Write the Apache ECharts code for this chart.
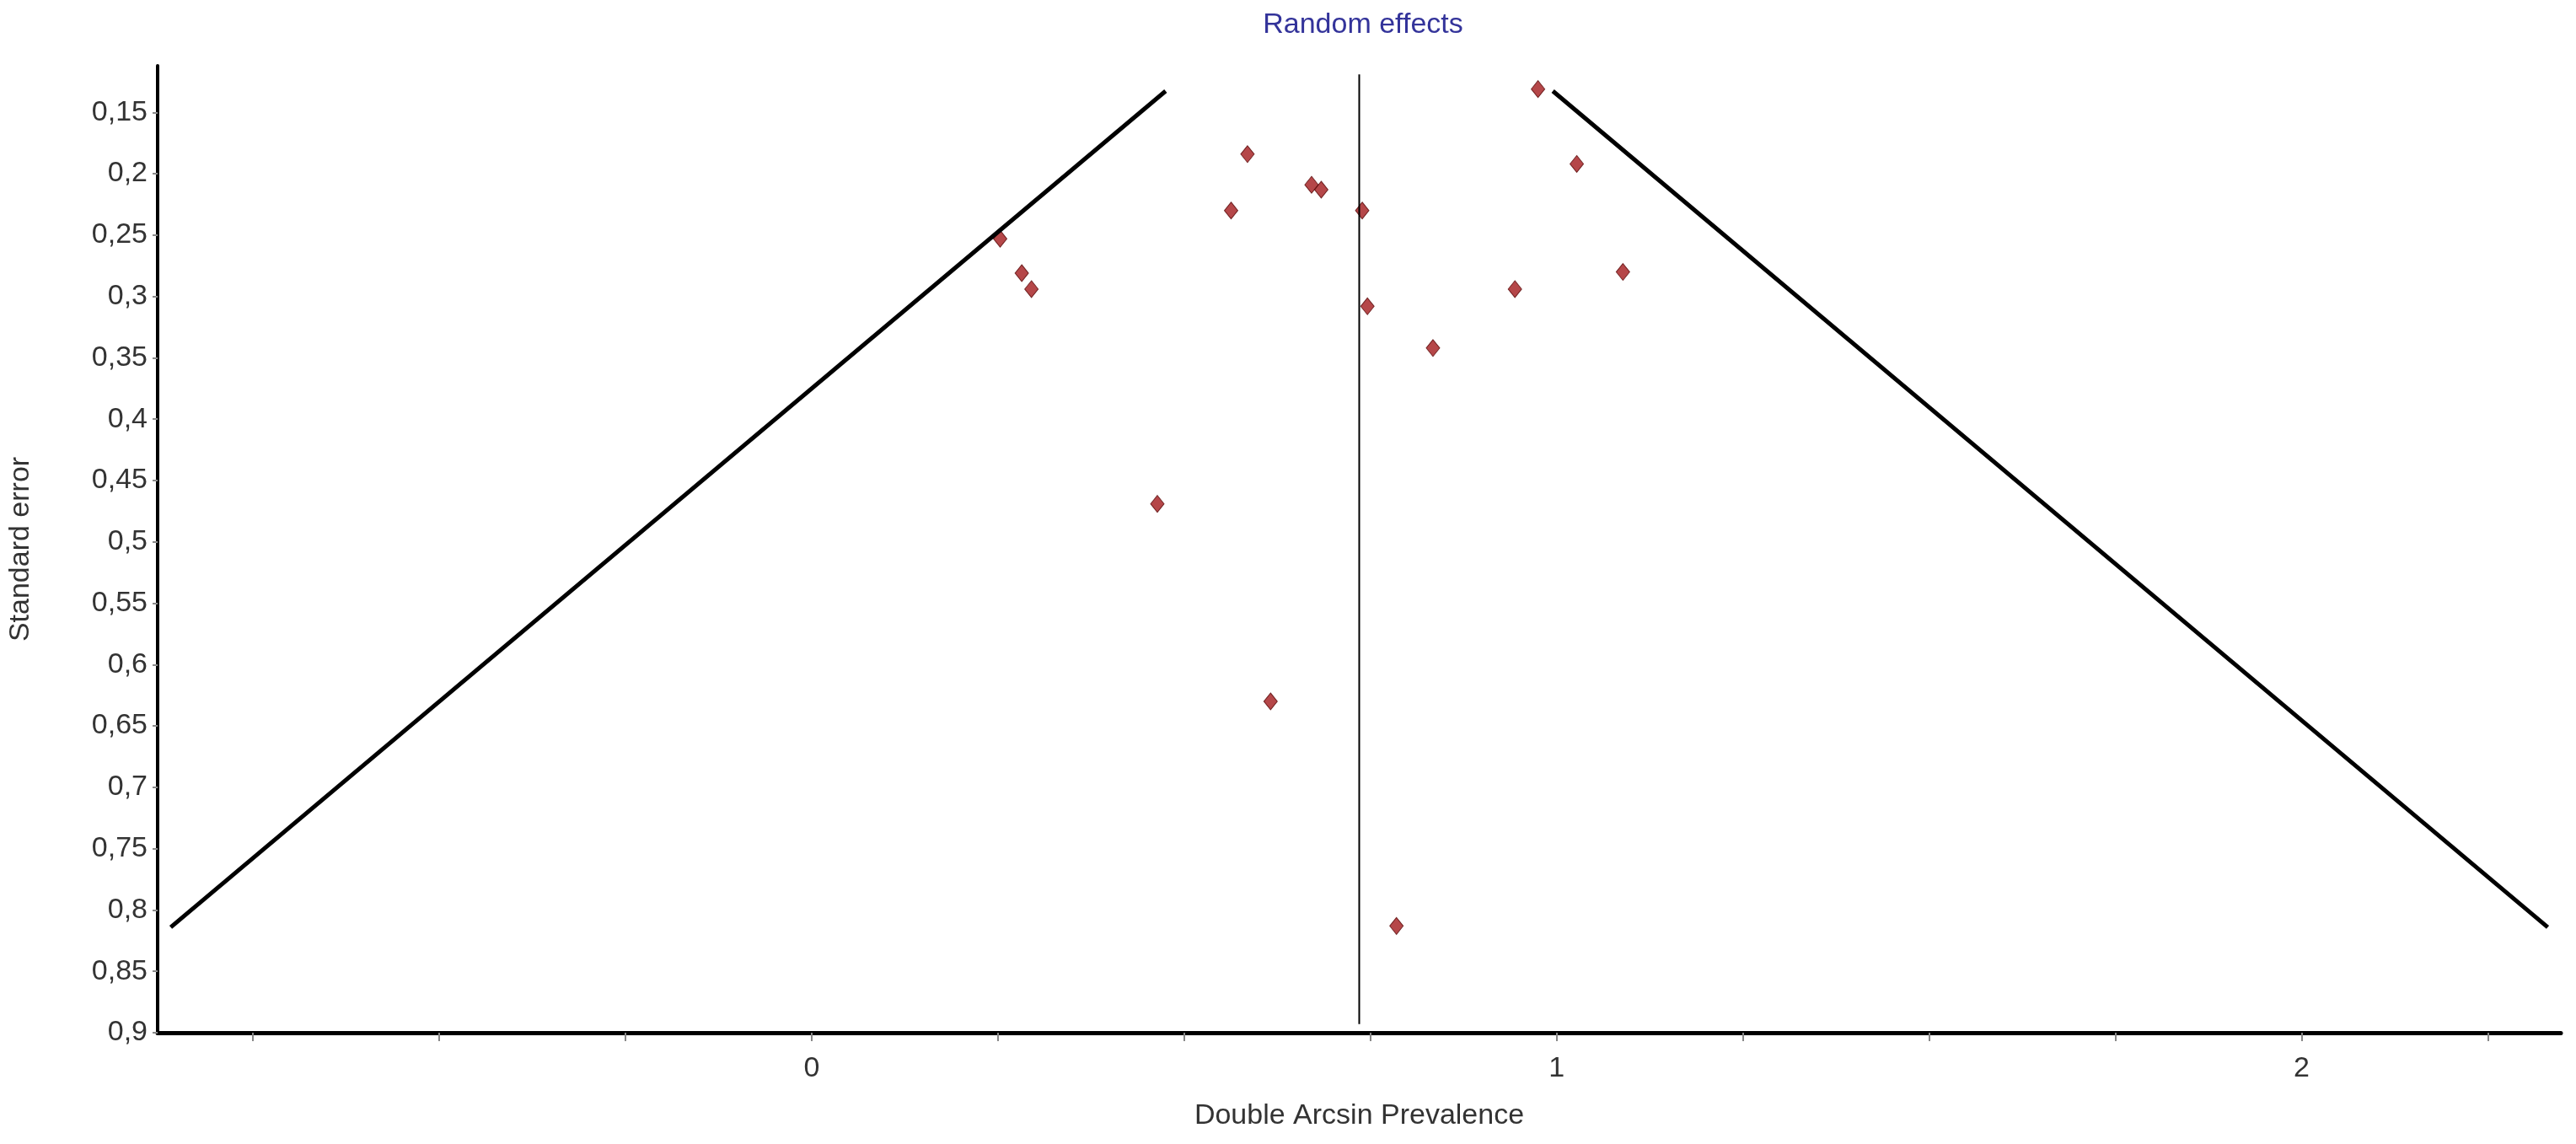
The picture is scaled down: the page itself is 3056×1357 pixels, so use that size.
<!DOCTYPE html><html><head><meta charset="utf-8"><script src="https://cdn.jsdelivr.net/npm/echarts@6/dist/echarts.min.js"></script>
<style>html,body{margin:0;background:#fff}#c{width:3056px;height:1357px}</style></head><body><div id="c"></div><script>
const studyX=[0.253,0.282,0.295,0.585,0.563,0.671,0.684,0.739,0.746,0.834,0.944,0.975,1.027,1.089,0.464,0.616,0.785];
const studySE=[0.253,0.281,0.294,0.184,0.230,0.209,0.213,0.230,0.308,0.342,0.294,0.131,0.192,0.280,0.469,0.630,0.813];
const pooled=0.735;
const funnelSE=[0.1326,0.814];
const yTicks=[0.15,0.2,0.25,0.3,0.35,0.4,0.45,0.5,0.55,0.6,0.65,0.7,0.75,0.8,0.85,0.9];
const xTicks=[-0.75,-0.5,-0.25,0,0.25,0.5,0.75,1,1.25,1.5,1.75,2,2.25];
const xLabels=[0,1,2];
const ch=echarts.init(document.getElementById('c'));
const lineStyle={color:'#000',width:5};
ch.setOption({
 animation:false,
 title:{text:'Random effects',left:1612,top:8,textAlign:'center',textStyle:{color:'#33339a',fontSize:34,fontWeight:'normal',fontFamily:'Liberation Sans'}},
 grid:{left:179,right:18,top:78,bottom:132},
 xAxis:{type:'value',min:-0.878,max:2.348,name:'Double Arcsin Prevalence',nameLocation:'middle',nameGap:82,
  nameTextStyle:{fontSize:34,color:'#333',fontFamily:'Liberation Sans'},
  axisLine:{onZero:false,lineStyle:{color:'#000',width:5}},splitLine:{show:false},
  axisTick:{customValues:xTicks,length:10,lineStyle:{color:'#888',width:2}},
  axisLabel:{customValues:xLabels,fontSize:34,color:'#333',margin:26,fontFamily:'Liberation Sans'}},
 yAxis:{type:'value',inverse:true,min:0.112,max:0.9,name:'Standard error',nameLocation:'middle',nameGap:145,
  nameTextStyle:{fontSize:34,color:'#333',fontFamily:'Liberation Sans'},
  axisLine:{show:true,onZero:false,lineStyle:{color:'#000',width:4}},splitLine:{show:false},
  axisTick:{customValues:yTicks,length:6,lineStyle:{color:'#888',width:2}},
  axisLabel:{customValues:yTicks,fontSize:34,color:'#333',margin:12,fontFamily:'Liberation Sans',formatter:v=>String(+v.toFixed(2)).replace('.',',')}},
 series:[
  {type:'line',symbol:'none',lineStyle,data:funnelSE.map(s=>[pooled-1.96*s,s])},
  {type:'line',symbol:'none',lineStyle,data:funnelSE.map(s=>[pooled+1.96*s,s])},
  {type:'line',symbol:'none',lineStyle:{color:'#000',width:2},data:[[pooled,0.119],[pooled,0.893]]},
  {type:'scatter',symbol:'diamond',symbolSize:[16,20],itemStyle:{color:'#a3191c',borderColor:'#5a0a0a',borderWidth:1},
   data:studyX.map((x,i)=>[x,studySE[i]])}
 ]
});
</script></body></html>
